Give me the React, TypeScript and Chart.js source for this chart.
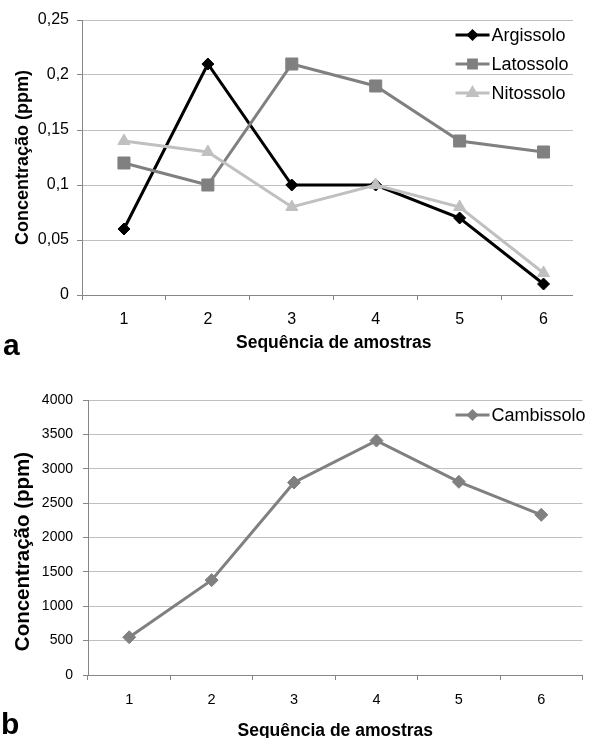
import React, { useEffect, useRef } from 'react';
import { Chart, registerables } from 'chart.js';
import { drawPoint } from 'chart.js/helpers';

Chart.register(...registerables);

const FONT = "'Liberation Sans', Arial, Helvetica, sans-serif";
Chart.defaults.font.family = FONT;

// ---------- data ----------
const categories = ['1', '2', '3', '4', '5', '6'];

const argissolo = [0.06, 0.21, 0.1, 0.1, 0.07, 0.01];
const latossolo = [0.12, 0.1, 0.21, 0.19, 0.14, 0.13];
const nitossolo = [0.14, 0.13, 0.08, 0.1, 0.08, 0.02];

const cambissolo = [550, 1380, 2800, 3410, 2810, 2330];

const topYMin = 0;
const topYMax = 0.25;
const topYStep = 0.05;
const bottomYMin = 0;
const bottomYMax = 4000;
const bottomYStep = 500;

const xTitle = 'Sequência de amostras';
const yTitle = 'Concentração (ppm)';

// ---------- styles ----------
const GRID = '#c0c0c0';
const AXIS = '#868686';

type LegendOpts = { firstOffset: number; rowGap: number; lineFromRight: number; markers: { style: string; radius: number }[] };

function makeLegendPlugin(o: LegendOpts) {
  return {
    id: 'insideLegend',
    afterDatasetsDraw(chart: any) {
      const { ctx, chartArea } = chart;
      ctx.save();
      chart.data.datasets.forEach((ds: any, i: number) => {
        const y = chartArea.top + o.firstOffset + i * o.rowGap;
        const x0 = chartArea.right - o.lineFromRight;
        const x1 = x0 + 34;
        ctx.strokeStyle = ds.borderColor;
        ctx.lineWidth = 3;
        ctx.beginPath();
        ctx.moveTo(x0, y);
        ctx.lineTo(x1, y);
        ctx.stroke();
        ctx.fillStyle = ds.borderColor;
        ctx.strokeStyle = ds.borderColor;
        const m = o.markers[i];
        drawPoint(ctx, { pointStyle: m.style as any, radius: m.radius, rotation: 0, borderWidth: 1 }, (x0 + x1) / 2, y);
        ctx.fillStyle = '#000';
        ctx.font = `18px ${FONT}`;
        ctx.textBaseline = 'middle';
        ctx.textAlign = 'left';
        ctx.fillText(ds.label, x1 + 2, y + 1);
      });
      ctx.restore();
    },
  };
}

// y-axis title drawn beside the axis, centred slightly below the plot middle (as in the reference)
function makeYTitlePlugin(text: string, size: number, x: number, dy: number) {
  return {
    id: 'yTitleCustom',
    afterDraw(chart: any) {
      const { ctx, chartArea } = chart;
      ctx.save();
      ctx.translate(x, (chartArea.top + chartArea.bottom) / 2 + dy);
      ctx.rotate(-Math.PI / 2);
      ctx.font = `bold ${size}px ${FONT}`;
      ctx.fillStyle = '#000';
      ctx.textAlign = 'center';
      ctx.textBaseline = 'middle';
      ctx.fillText(text, 0, 0);
      ctx.restore();
    },
  };
}

function fmtComma(v: number) {
  const r = Math.round(v * 100) / 100;
  return String(r).replace('.', ',');
}

const topConfig: any = {
  type: 'line',
  data: {
    labels: categories,
    datasets: [
      { label: 'Argissolo', data: argissolo, borderColor: '#000000', backgroundColor: '#000000', borderWidth: 3, pointStyle: 'rectRot', pointRadius: 6, pointBorderWidth: 1, order: 2 },
      { label: 'Latossolo', data: latossolo, borderColor: '#808080', backgroundColor: '#808080', borderWidth: 3, pointStyle: 'rect', pointRadius: 8.5, pointBorderWidth: 1, order: 1 },
      { label: 'Nitossolo', data: nitossolo, borderColor: '#c0c0c0', backgroundColor: '#c0c0c0', borderWidth: 3, pointStyle: 'triangle', pointRadius: 7, pointBorderWidth: 1, order: 0 },
    ],
  },
  options: {
    responsive: false,
    animation: false,
    devicePixelRatio: 1,
    layout: { padding: { top: 20, right: 4, bottom: 0, left: 0 } },
    plugins: { legend: { display: false }, tooltip: { enabled: false } },
    scales: {
      x: {
        type: 'category',
        offset: true,
        grid: { offset: true, drawOnChartArea: false, drawTicks: true, tickLength: 5, color: AXIS, tickColor: AXIS },
        border: { color: AXIS, width: 1 },
        ticks: { font: { size: 16 }, color: '#000', padding: 10, maxRotation: 0 },
        title: { display: true, text: xTitle, font: { size: 17.5, weight: 'bold' }, color: '#000', padding: { top: 0, bottom: 11 } },
        afterFit: (s: any) => { s.height = 70; },
      },
      y: {
        min: topYMin,
        max: topYMax,
        ticks: { stepSize: topYStep, font: { size: 16 }, color: '#000', padding: 8, callback: (v: any) => fmtComma(Number(v)) },
        grid: { color: GRID, tickColor: AXIS, tickLength: 5, drawTicks: true },
        border: { color: AXIS, width: 1 },
        title: { display: true, text: yTitle, font: { size: 18, weight: 'bold' }, color: '#000', padding: { top: 12, bottom: 0 } },
        afterFit: (s: any) => { s.width = 82; },
      },
    },
  },
  plugins: [
    makeLegendPlugin({
      firstOffset: 15,
      rowGap: 29,
      lineFromRight: 130,
      markers: [
        { style: 'rectRot', radius: 4 },
        { style: 'rect', radius: 5.5 },
        { style: 'triangle', radius: 5 },
      ],
    }),
  ],
};

const bottomConfig: any = {
  type: 'line',
  data: {
    labels: categories,
    datasets: [
      { label: 'Cambissolo', data: cambissolo, borderColor: '#808080', backgroundColor: '#808080', borderWidth: 3, pointStyle: 'rectRot', pointRadius: 6.5, pointBorderWidth: 1 },
    ],
  },
  options: {
    responsive: false,
    animation: false,
    devicePixelRatio: 1,
    layout: { padding: { top: 35, right: 6, bottom: 0, left: 0 } },
    plugins: { legend: { display: false }, tooltip: { enabled: false } },
    scales: {
      x: {
        type: 'category',
        offset: true,
        grid: { offset: true, drawOnChartArea: false, drawTicks: true, tickLength: 5, color: AXIS, tickColor: AXIS },
        border: { color: AXIS, width: 1 },
        ticks: { font: { size: 14.5 }, color: '#000', padding: 11, maxRotation: 0 },
        title: { display: true, text: xTitle, font: { size: 17.5, weight: 'bold' }, color: '#000', padding: { top: 0, bottom: 3 } },
        afterFit: (s: any) => { s.height = 70; },
      },
      y: {
        min: bottomYMin,
        max: bottomYMax,
        ticks: { stepSize: bottomYStep, font: { size: 14 }, color: '#000', padding: 10, callback: (v: any) => String(v) },
        grid: { color: GRID, tickColor: AXIS, tickLength: 5, drawTicks: true },
        border: { color: AXIS, width: 1 },
        title: { display: false },
        afterFit: (s: any) => { s.width = 88; },
      },
    },
  },
  plugins: [
    makeLegendPlugin({
      firstOffset: 15,
      rowGap: 29,
      lineFromRight: 127,
      markers: [{ style: 'rectRot', radius: 4 }],
    }),
    makeYTitlePlugin(yTitle, 20.5, 23, 14),
  ],
};

function ChartCanvas({ config, width, height }: { config: any; width: number; height: number }) {
  const ref = useRef<HTMLCanvasElement | null>(null);
  useEffect(() => {
    if (!ref.current) return;
    const chart = new Chart(ref.current, config);
    return () => chart.destroy();
  }, [config]);
  return <canvas ref={ref} width={width} height={height} style={{ display: 'block', width, height }} />;
}

const panelLabel: React.CSSProperties = {
  position: 'absolute',
  fontFamily: FONT,
  fontWeight: 'bold',
  fontSize: 30,
  lineHeight: '30px',
  color: '#000',
  margin: 0,
};

export default function App() {
  return (
    <div style={{ position: 'absolute', left: 0, top: 0, width: 590, height: 738, overflow: 'hidden', background: '#fff' }}>
      <div style={{ position: 'absolute', left: 0, top: 0, width: 573, height: 365, overflow: 'hidden' }}>
        <ChartCanvas config={topConfig} width={595} height={365} />
      </div>
      <div style={{ position: 'absolute', left: 0, top: 365, width: 590, height: 380 }}>
        <ChartCanvas config={bottomConfig} width={590} height={380} />
      </div>
      <div style={{ ...panelLabel, left: 3, top: 330 }}>a</div>
      <div style={{ ...panelLabel, left: 1, top: 709 }}>b</div>
    </div>
  );
}
